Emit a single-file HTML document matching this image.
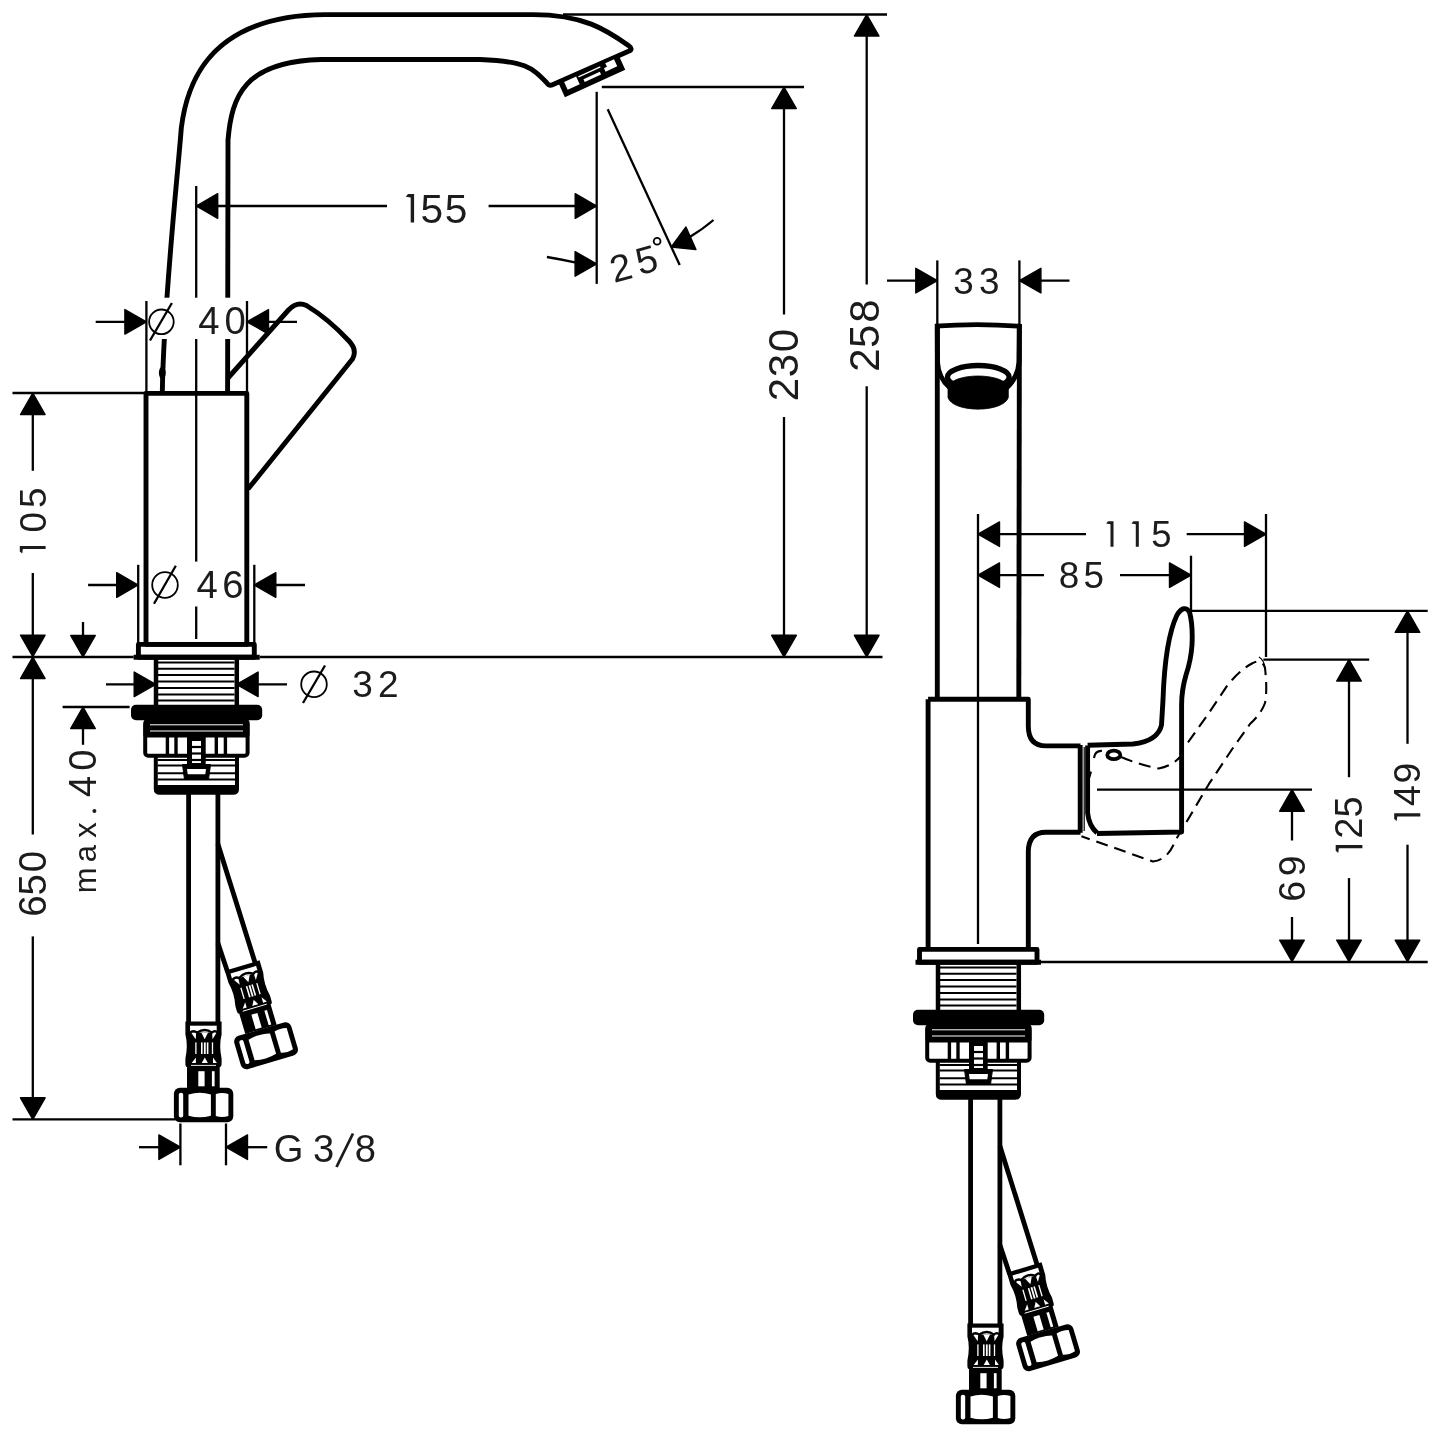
<!DOCTYPE html>
<html><head><meta charset="utf-8"><style>
html,body{margin:0;padding:0;background:#fff;}
svg{display:block;will-change:transform;}
text{font-family:"Liberation Sans",sans-serif;fill:#1c1c1c;stroke:none;}
</style></head><body>
<svg width="1437" height="1437" viewBox="0 0 1437 1437">
<rect width="1437" height="1437" fill="#fff"/>
<g stroke="#000" fill="none" stroke-linecap="butt" stroke-linejoin="round">
<path d="M 162.3,393 C 163.5,303.3 177.8,174.6 181.3,128 C 185.5,94 200.7,15.6 325,14.6 L 530,14.6 C 583.8,14 606.9,30.3 628.5,45.5 Q 634,49.5 628,51.5 L 552.5,84.8 Q 549,86.3 546.5,82.5 C 531.6,67 524.4,61.2 480,59.5 L 321,59.5 C 244.2,61.6 231.7,96.1 228,140 L 227.6,393" stroke-width="4.9" fill="none" />
<g transform="translate(559.5,83.4) rotate(-24.5)"><rect x="-0.8" y="-0.5" width="66.3" height="15.3" fill="#000" stroke="none"/><rect x="4.8" y="0.6" width="13.2" height="8.6" fill="#fff" stroke="none"/><polygon points="50,0.6 59.6,0.6 59.6,8.4 46.8,8.4 46.8,4.6 50,4.6" fill="#fff" stroke="none"/><rect x="20" y="1.2" width="24" height="1.3" fill="#fff" stroke="none"/><rect x="23.5" y="6.2" width="18" height="3" fill="#fff" stroke="none"/></g>
<rect x="149" y="297.7" width="95" height="41.3" fill="#fff" stroke="none"/>
<ellipse cx="162.3" cy="373" rx="3.4" ry="6.5" fill="#000" stroke="none"/>
<path d="M 146,393.4 L 246.8,393.4 L 246.8,644.4 L 146,644.4 Z" stroke-width="4.9" fill="none" />
<path d="M 138.4,644.4 L 254.3,644.4 L 254.3,657.2 L 138.4,657.2 Z" stroke-width="4.9" fill="none" />
<line x1="133.60" y1="657.20" x2="259.70" y2="657.20" stroke-width="5" />
<path d="M 228,378 L 288.5,310 Q 297,301 306.5,305.5 C 322,315 337,328 349,341 Q 357.5,350 352.5,359 L 248,489" stroke-width="4.9" fill="none" />
<line x1="196.20" y1="186.00" x2="196.20" y2="297.70" stroke-width="2.3" />
<line x1="196.20" y1="339.00" x2="196.20" y2="561.60" stroke-width="2.3" />
<line x1="196.20" y1="606.50" x2="196.20" y2="639.00" stroke-width="2.3" />
<polygon points="196.20,206.00 217.70,193.70 217.70,218.30" fill="#000" stroke="#000" stroke-width="1.4" stroke-linejoin="round"/>
<polygon points="596.70,206.00 575.20,218.30 575.20,193.70" fill="#000" stroke="#000" stroke-width="1.4" stroke-linejoin="round"/>
<line x1="196.20" y1="206.00" x2="387.00" y2="206.00" stroke-width="2.3" />
<line x1="488.60" y1="206.00" x2="596.70" y2="206.00" stroke-width="2.3" />
<g transform="translate(412.40,222.50)"><polygon points="-6.60,-25.80 -4.40,-28.50 1.70,-28.50 1.70,0.00 -1.70,0.00 -1.70,-25.10" fill="#1c1c1c" stroke="none"/></g>
<text x="431.80" y="222.50" font-size="40.71" text-anchor="middle">5</text>
<text x="456.00" y="222.50" font-size="40.71" text-anchor="middle">5</text>
<line x1="596.70" y1="91.80" x2="596.70" y2="283.90" stroke-width="2.3" />
<line x1="607.70" y1="109.30" x2="679.70" y2="265.10" stroke-width="2.3" />
<polygon points="596.60,263.90 575.10,276.20 575.10,251.60" fill="#000" stroke="#000" stroke-width="1.4" stroke-linejoin="round"/>
<path d="M 546.9,257 Q 562,259.5 576,262.6" stroke-width="2.3" fill="none" />
<polygon points="671.30,247.00 685.94,227.02 695.94,249.49" fill="#000" stroke="#000" stroke-width="1.4" stroke-linejoin="round"/>
<path d="M 713.5,220 Q 703,229 689,237.5" stroke-width="2.3" fill="none" />
<g transform="translate(620.8,267.4) rotate(-15)"><text x="0" y="13.4" font-size="38" text-anchor="middle">2</text></g>
<g transform="translate(646.5,259.5) rotate(-15)"><text x="0" y="13.4" font-size="38" text-anchor="middle">5</text></g>
<circle cx="657.1" cy="241.3" r="3.4" stroke-width="1.8"/>
<line x1="146.40" y1="301.00" x2="146.40" y2="393.40" stroke-width="2.3" />
<line x1="247.00" y1="301.00" x2="247.00" y2="393.40" stroke-width="2.3" />
<polygon points="146.40,321.80 124.90,334.10 124.90,309.50" fill="#000" stroke="#000" stroke-width="1.4" stroke-linejoin="round"/>
<polygon points="247.00,321.80 268.50,309.50 268.50,334.10" fill="#000" stroke="#000" stroke-width="1.4" stroke-linejoin="round"/>
<line x1="95.70" y1="321.80" x2="130.00" y2="321.80" stroke-width="2.3" />
<line x1="262.00" y1="321.80" x2="297.00" y2="321.80" stroke-width="2.3" />
<circle cx="161.4" cy="321.8" r="12.3" stroke-width="1.8"/>
<line x1="150.00" y1="340.50" x2="171.90" y2="303.00" stroke-width="2.3" />
<text x="208.90" y="334.40" font-size="38.29" text-anchor="middle">4</text>
<text x="235.10" y="334.40" font-size="38.29" text-anchor="middle">0</text>
<line x1="138.20" y1="564.80" x2="138.20" y2="644.00" stroke-width="2.3" />
<line x1="254.30" y1="564.80" x2="254.30" y2="644.00" stroke-width="2.3" />
<polygon points="138.20,585.00 116.70,597.30 116.70,572.70" fill="#000" stroke="#000" stroke-width="1.4" stroke-linejoin="round"/>
<polygon points="254.30,585.00 275.80,572.70 275.80,597.30" fill="#000" stroke="#000" stroke-width="1.4" stroke-linejoin="round"/>
<line x1="88.10" y1="585.00" x2="125.00" y2="585.00" stroke-width="2.3" />
<line x1="268.00" y1="585.00" x2="305.00" y2="585.00" stroke-width="2.3" />
<circle cx="165" cy="585" r="12.8" stroke-width="1.8"/>
<line x1="154.00" y1="603.80" x2="175.80" y2="565.80" stroke-width="2.3" />
<text x="207.20" y="597.50" font-size="38.29" text-anchor="middle">4</text>
<text x="233.00" y="597.50" font-size="38.29" text-anchor="middle">6</text>
<line x1="12.50" y1="393.00" x2="146.00" y2="393.00" stroke-width="2.3" />
<polygon points="32.80,393.00 45.10,414.50 20.50,414.50" fill="#000" stroke="#000" stroke-width="1.4" stroke-linejoin="round"/>
<line x1="32.80" y1="410.00" x2="32.80" y2="470.80" stroke-width="2.3" />
<g transform="translate(45.60,547.50) rotate(-90)"><polygon points="-5.97,-23.36 -3.98,-25.80 1.54,-25.80 1.54,0.00 -1.54,0.00 -1.54,-22.72" fill="#1c1c1c" stroke="none"/></g>
<g transform="translate(45.60,522.20) rotate(-90)"><text x="0" y="0" font-size="36.86" text-anchor="middle">0</text></g>
<g transform="translate(45.60,497.70) rotate(-90)"><text x="0" y="0" font-size="36.86" text-anchor="middle">5</text></g>
<line x1="32.80" y1="573.00" x2="32.80" y2="640.00" stroke-width="2.3" />
<polygon points="32.80,656.60 20.50,635.10 45.10,635.10" fill="#000" stroke="#000" stroke-width="1.4" stroke-linejoin="round"/>
<line x1="12.50" y1="657.00" x2="133.60" y2="657.00" stroke-width="2.3" />
<line x1="259.70" y1="657.00" x2="882.50" y2="657.00" stroke-width="2.3" />
<polygon points="32.80,657.00 45.10,678.50 20.50,678.50" fill="#000" stroke="#000" stroke-width="1.4" stroke-linejoin="round"/>
<line x1="32.80" y1="670.00" x2="32.80" y2="834.50" stroke-width="2.3" />
<g transform="translate(45.70,906.00) rotate(-90)"><text x="0" y="0" font-size="38.43" text-anchor="middle">6</text></g>
<g transform="translate(45.70,884.80) rotate(-90)"><text x="0" y="0" font-size="38.43" text-anchor="middle">5</text></g>
<g transform="translate(45.70,861.50) rotate(-90)"><text x="0" y="0" font-size="38.43" text-anchor="middle">0</text></g>
<line x1="32.80" y1="936.40" x2="32.80" y2="1105.00" stroke-width="2.3" />
<polygon points="32.80,1119.30 20.50,1097.80 45.10,1097.80" fill="#000" stroke="#000" stroke-width="1.4" stroke-linejoin="round"/>
<line x1="12.50" y1="1119.30" x2="175.40" y2="1119.30" stroke-width="2.3" />
<line x1="62.60" y1="707.00" x2="129.60" y2="707.00" stroke-width="2.3" />
<line x1="83.00" y1="622.00" x2="83.00" y2="645.00" stroke-width="2.3" />
<polygon points="83.00,657.00 70.70,635.50 95.30,635.50" fill="#000" stroke="#000" stroke-width="1.4" stroke-linejoin="round"/>
<polygon points="83.00,707.00 95.30,728.50 70.70,728.50" fill="#000" stroke="#000" stroke-width="1.4" stroke-linejoin="round"/>
<line x1="83.00" y1="720.00" x2="83.00" y2="744.80" stroke-width="2.3" />
<g transform="translate(96.2,880.3) rotate(-90)"><text x="0" y="0" font-size="31" text-anchor="middle">m</text></g>
<g transform="translate(96.2,853.7) rotate(-90)"><text x="0" y="0" font-size="31" text-anchor="middle">a</text></g>
<g transform="translate(96.2,830) rotate(-90)"><text x="0" y="0" font-size="31" text-anchor="middle">x</text></g>
<g transform="translate(96.2,786.5) rotate(-90)"><text x="0" y="0" font-size="38.1" text-anchor="middle">4</text></g>
<g transform="translate(96.2,760.2) rotate(-90)"><text x="0" y="0" font-size="38.1" text-anchor="middle">0</text></g>
<circle cx="94.4" cy="811.1" r="2" fill="#1c1c1c" stroke="none"/>
<polygon points="155.70,684.30 134.20,696.60 134.20,672.00" fill="#000" stroke="#000" stroke-width="1.4" stroke-linejoin="round"/>
<polygon points="236.60,684.30 258.10,672.00 258.10,696.60" fill="#000" stroke="#000" stroke-width="1.4" stroke-linejoin="round"/>
<line x1="106.00" y1="684.30" x2="140.00" y2="684.30" stroke-width="2.3" />
<line x1="250.00" y1="684.30" x2="287.00" y2="684.30" stroke-width="2.3" />
<circle cx="314" cy="684.3" r="12.8" stroke-width="1.8"/>
<line x1="303.00" y1="703.00" x2="325.00" y2="665.50" stroke-width="2.3" />
<text x="362.45" y="697.20" font-size="37.00" text-anchor="middle">3</text>
<text x="388.35" y="697.20" font-size="37.00" text-anchor="middle">2</text>
<line x1="180.40" y1="1123.50" x2="180.40" y2="1165.30" stroke-width="2.3" />
<line x1="226.00" y1="1123.50" x2="226.00" y2="1165.30" stroke-width="2.3" />
<polygon points="180.40,1147.20 158.90,1159.50 158.90,1134.90" fill="#000" stroke="#000" stroke-width="1.4" stroke-linejoin="round"/>
<polygon points="226.00,1147.20 247.50,1134.90 247.50,1159.50" fill="#000" stroke="#000" stroke-width="1.4" stroke-linejoin="round"/>
<line x1="139.00" y1="1147.20" x2="165.00" y2="1147.20" stroke-width="2.3" />
<line x1="240.00" y1="1147.20" x2="267.20" y2="1147.20" stroke-width="2.3" />
<text x="288.55" y="1161.70" font-size="38.14" text-anchor="middle">G</text>
<text x="323.65" y="1161.70" font-size="38.14" text-anchor="middle">3</text>
<text x="365.45" y="1161.70" font-size="38.14" text-anchor="middle">8</text>
<line x1="336.50" y1="1167.00" x2="353.00" y2="1133.50" stroke-width="2.8" stroke="#1c1c1c"/>
<line x1="601.80" y1="87.00" x2="804.00" y2="87.00" stroke-width="2.3" />
<polygon points="784.00,87.00 796.30,108.50 771.70,108.50" fill="#000" stroke="#000" stroke-width="1.4" stroke-linejoin="round"/>
<line x1="784.00" y1="100.00" x2="784.00" y2="314.50" stroke-width="2.3" />
<g transform="translate(797.60,389.60) rotate(-90)"><text x="0" y="0" font-size="42.00" text-anchor="middle">2</text></g>
<g transform="translate(797.60,365.50) rotate(-90)"><text x="0" y="0" font-size="42.00" text-anchor="middle">3</text></g>
<g transform="translate(797.60,340.60) rotate(-90)"><text x="0" y="0" font-size="42.00" text-anchor="middle">0</text></g>
<line x1="784.00" y1="417.00" x2="784.00" y2="645.00" stroke-width="2.3" />
<polygon points="784.00,656.80 771.70,635.30 796.30,635.30" fill="#000" stroke="#000" stroke-width="1.4" stroke-linejoin="round"/>
<line x1="563.00" y1="14.50" x2="887.00" y2="14.50" stroke-width="2.3" />
<polygon points="866.70,14.50 879.00,36.00 854.40,36.00" fill="#000" stroke="#000" stroke-width="1.4" stroke-linejoin="round"/>
<line x1="866.70" y1="28.00" x2="866.70" y2="284.50" stroke-width="2.3" />
<g transform="translate(879.00,360.20) rotate(-90)"><text x="0" y="0" font-size="42.00" text-anchor="middle">2</text></g>
<g transform="translate(879.00,336.30) rotate(-90)"><text x="0" y="0" font-size="42.00" text-anchor="middle">5</text></g>
<g transform="translate(879.00,311.20) rotate(-90)"><text x="0" y="0" font-size="42.00" text-anchor="middle">8</text></g>
<line x1="866.70" y1="386.30" x2="866.70" y2="645.00" stroke-width="2.3" />
<polygon points="866.70,656.80 854.40,635.30 879.00,635.30" fill="#000" stroke="#000" stroke-width="1.4" stroke-linejoin="round"/>
</g>
<g stroke="#000" fill="none" stroke-linejoin="round">
<line x1="156" y1="659" x2="156" y2="705.5" stroke-width="4.5"/>
<line x1="236.8" y1="659" x2="236.8" y2="705.5" stroke-width="4.5"/>
<line x1="158" y1="662.5" x2="234.5" y2="662.5" stroke-width="2"/>
<line x1="158" y1="668.8" x2="234.5" y2="668.8" stroke-width="2"/>
<line x1="158" y1="675.1" x2="234.5" y2="675.1" stroke-width="2"/>
<line x1="158" y1="681.5" x2="234.5" y2="681.5" stroke-width="2"/>
<line x1="158" y1="688" x2="234.5" y2="688" stroke-width="2"/>
<line x1="158" y1="694.4" x2="234.5" y2="694.4" stroke-width="2"/>
<line x1="158" y1="700.6" x2="234.5" y2="700.6" stroke-width="2"/>
<rect x="131" y="704.8" width="131.2" height="15.4" rx="5" fill="#000" stroke="none"/>
<rect x="145.2" y="721.5" width="102.4" height="34.2" rx="3" stroke-width="4"/>
<rect x="143.5" y="719.5" width="106" height="18" rx="3" fill="#000" stroke="none"/>
<line x1="150" y1="724.8" x2="243" y2="724.8" stroke="#fff" stroke-width="1"/>
<line x1="150" y1="731" x2="243" y2="731" stroke="#fff" stroke-width="1"/>
<line x1="167.4" y1="737" x2="167.4" y2="756" stroke-width="3.4"/>
<line x1="176" y1="737" x2="176" y2="756" stroke-width="3.4"/>
<line x1="216.3" y1="737" x2="216.3" y2="756" stroke-width="3.4"/>
<line x1="225.4" y1="737" x2="225.4" y2="756" stroke-width="3.4"/>
<rect x="187" y="735" width="18.7" height="31" fill="#000" stroke="none"/>
<rect x="192" y="741" width="9" height="22" fill="#fff" stroke="none"/>
<line x1="192" y1="747" x2="201" y2="747" stroke-width="2.2"/>
<line x1="192" y1="753.5" x2="201" y2="753.5" stroke-width="2.2"/>
<line x1="192" y1="760" x2="201" y2="760" stroke-width="2.2"/>
<path d="M 155.8,757 L 155.8,789 Q 155.8,792.8 160,792.8 L 233,792.8 Q 237,792.8 237,789 L 237,757" stroke-width="4"/>
<rect x="156" y="785" width="81" height="8" fill="#000" stroke="none"/>
<line x1="157.5" y1="760.1" x2="235.5" y2="760.1" stroke-width="2"/>
<line x1="157.5" y1="765.6" x2="235.5" y2="765.6" stroke-width="2"/>
<line x1="157.5" y1="773.2" x2="235.5" y2="773.2" stroke-width="2"/>
<line x1="157.5" y1="779.5" x2="235.5" y2="779.5" stroke-width="2"/>
<polygon points="182.5,764.5 210.5,764.5 208.5,779.5 184.5,779.5" fill="#000" stroke="#000" stroke-width="1"/>
<polygon points="187,769 206,769 205.3,774.3 187.7,774.3" fill="#fff" stroke="none"/>
<line x1="188.6" y1="794" x2="188.6" y2="1022" stroke-width="4.8"/>
<line x1="217.9" y1="794" x2="217.9" y2="1022" stroke-width="4.8"/>
<line x1="217.9" y1="844" x2="255.5" y2="964" stroke-width="4.8"/>
<line x1="217.9" y1="942.9" x2="227.6" y2="972" stroke-width="4.8"/>
<g transform="translate(203.5,1021.4)"><path d="M -18.1,0 L 18.1,0 L 18.1,13 Q 15.3,24 18.1,37 L 18.1,42 Q 18,45.5 16.2,45.5 L 16.2,66.6 L -16.5,66.6 L -16.5,45.5 Q -18.1,45.5 -18.1,42 L -18.1,37 Q -15.3,24 -18.1,13 Z" fill="#000" stroke="none"/>
<rect x="-13.5" y="4.3" width="26.7" height="6.8" fill="#fff" stroke="none"/>
<polygon points="-12.5,11 -7.3,11 -7.8,17.8" fill="#fff" stroke="none"/>
<polygon points="-2.2,11 4.6,11 1.2,17.8" fill="#fff" stroke="none"/>
<polygon points="8.6,11 13.2,11 9,17.8" fill="#fff" stroke="none"/>
<path d="M -13.8,11.6 Q -10.5,8.2 -6.2,11.2 Q -2.5,8.6 1.2,8.6 Q 5,8.6 8.4,11.2 Q 11.5,8.2 14,11.2" stroke-width="2.4" fill="none"/>
<rect x="-8.25" y="21" width="1.3" height="11.6" fill="#fff" stroke="none"/>
<rect x="-2.50" y="21" width="1.6" height="11.6" fill="#fff" stroke="none"/>
<rect x="0.40" y="21" width="1.8" height="11.6" fill="#fff" stroke="none"/>
<rect x="3.30" y="21" width="1.6" height="11.6" fill="#fff" stroke="none"/>
<rect x="8.35" y="21" width="1.3" height="11.6" fill="#fff" stroke="none"/>
<polygon points="-11.8,41.6 -7.6,41.6 -7.6,36" fill="#fff" stroke="none"/>
<polygon points="-1.8,41.6 4.4,41.6 1.3,36" fill="#fff" stroke="none"/>
<polygon points="9.5,36 13.4,41.6 9.5,41.6" fill="#fff" stroke="none"/>
<line x1="-12.5" y1="44" x2="12.5" y2="44" stroke="#fff" stroke-width="0.9"/>
<rect x="-5.2" y="49.8" width="6.3" height="15.1" fill="#fff" stroke="none"/>
<rect x="8.4" y="49.8" width="2.7" height="15.1" fill="#fff" stroke="none"/>
<rect x="-29.6" y="66.4" width="59.4" height="34.5" rx="6" fill="#000" stroke="none"/>
<rect x="-24.7" y="71.3" width="4.4" height="24.7" rx="2" fill="#fff" stroke="none"/>
<path d="M -15,73 Q -3.8,69.8 7.4,73 L 7.4,94.3 Q -3.8,97.5 -15,94.3 Z" fill="#fff" stroke="none"/>
<path d="M 12.3,72.6 Q 18.6,70.6 24.9,72.6 L 24.9,94.7 Q 18.6,96.7 12.3,94.7 Z" fill="#fff" stroke="none"/></g>
<g transform="translate(242.2,965.5) rotate(-16.5)"><path d="M -18.1,0 L 18.1,0 L 18.1,13 Q 15.3,24 18.1,37 L 18.1,42 Q 18,45.5 16.2,45.5 L 16.2,66.6 L -16.5,66.6 L -16.5,45.5 Q -18.1,45.5 -18.1,42 L -18.1,37 Q -15.3,24 -18.1,13 Z" fill="#000" stroke="none"/>
<rect x="-13.5" y="4.3" width="26.7" height="6.8" fill="#fff" stroke="none"/>
<polygon points="-12.5,11 -7.3,11 -7.8,17.8" fill="#fff" stroke="none"/>
<polygon points="-2.2,11 4.6,11 1.2,17.8" fill="#fff" stroke="none"/>
<polygon points="8.6,11 13.2,11 9,17.8" fill="#fff" stroke="none"/>
<path d="M -13.8,11.6 Q -10.5,8.2 -6.2,11.2 Q -2.5,8.6 1.2,8.6 Q 5,8.6 8.4,11.2 Q 11.5,8.2 14,11.2" stroke-width="2.4" fill="none"/>
<rect x="-8.25" y="21" width="1.3" height="11.6" fill="#fff" stroke="none"/>
<rect x="-2.50" y="21" width="1.6" height="11.6" fill="#fff" stroke="none"/>
<rect x="0.40" y="21" width="1.8" height="11.6" fill="#fff" stroke="none"/>
<rect x="3.30" y="21" width="1.6" height="11.6" fill="#fff" stroke="none"/>
<rect x="8.35" y="21" width="1.3" height="11.6" fill="#fff" stroke="none"/>
<polygon points="-11.8,41.6 -7.6,41.6 -7.6,36" fill="#fff" stroke="none"/>
<polygon points="-1.8,41.6 4.4,41.6 1.3,36" fill="#fff" stroke="none"/>
<polygon points="9.5,36 13.4,41.6 9.5,41.6" fill="#fff" stroke="none"/>
<line x1="-12.5" y1="44" x2="12.5" y2="44" stroke="#fff" stroke-width="0.9"/>
<rect x="-5.2" y="49.8" width="6.3" height="15.1" fill="#fff" stroke="none"/>
<rect x="8.4" y="49.8" width="2.7" height="15.1" fill="#fff" stroke="none"/>
<rect x="-29.6" y="66.4" width="59.4" height="34.5" rx="6" fill="#000" stroke="none"/>
<rect x="-24.7" y="71.3" width="4.4" height="24.7" rx="2" fill="#fff" stroke="none"/>
<path d="M -15,73 Q -3.8,69.8 7.4,73 L 7.4,94.3 Q -3.8,97.5 -15,94.3 Z" fill="#fff" stroke="none"/>
<path d="M 12.3,72.6 Q 18.6,70.6 24.9,72.6 L 24.9,94.7 Q 18.6,96.7 12.3,94.7 Z" fill="#fff" stroke="none"/></g>
<g transform="translate(782,305)"><line x1="156" y1="659" x2="156" y2="705.5" stroke-width="4.5"/>
<line x1="236.8" y1="659" x2="236.8" y2="705.5" stroke-width="4.5"/>
<line x1="158" y1="662.5" x2="234.5" y2="662.5" stroke-width="2"/>
<line x1="158" y1="668.8" x2="234.5" y2="668.8" stroke-width="2"/>
<line x1="158" y1="675.1" x2="234.5" y2="675.1" stroke-width="2"/>
<line x1="158" y1="681.5" x2="234.5" y2="681.5" stroke-width="2"/>
<line x1="158" y1="688" x2="234.5" y2="688" stroke-width="2"/>
<line x1="158" y1="694.4" x2="234.5" y2="694.4" stroke-width="2"/>
<line x1="158" y1="700.6" x2="234.5" y2="700.6" stroke-width="2"/>
<rect x="131" y="704.8" width="131.2" height="15.4" rx="5" fill="#000" stroke="none"/>
<rect x="145.2" y="721.5" width="102.4" height="34.2" rx="3" stroke-width="4"/>
<rect x="143.5" y="719.5" width="106" height="18" rx="3" fill="#000" stroke="none"/>
<line x1="150" y1="724.8" x2="243" y2="724.8" stroke="#fff" stroke-width="1"/>
<line x1="150" y1="731" x2="243" y2="731" stroke="#fff" stroke-width="1"/>
<line x1="167.4" y1="737" x2="167.4" y2="756" stroke-width="3.4"/>
<line x1="176" y1="737" x2="176" y2="756" stroke-width="3.4"/>
<line x1="216.3" y1="737" x2="216.3" y2="756" stroke-width="3.4"/>
<line x1="225.4" y1="737" x2="225.4" y2="756" stroke-width="3.4"/>
<rect x="187" y="735" width="18.7" height="31" fill="#000" stroke="none"/>
<rect x="192" y="741" width="9" height="22" fill="#fff" stroke="none"/>
<line x1="192" y1="747" x2="201" y2="747" stroke-width="2.2"/>
<line x1="192" y1="753.5" x2="201" y2="753.5" stroke-width="2.2"/>
<line x1="192" y1="760" x2="201" y2="760" stroke-width="2.2"/>
<path d="M 155.8,757 L 155.8,789 Q 155.8,792.8 160,792.8 L 233,792.8 Q 237,792.8 237,789 L 237,757" stroke-width="4"/>
<rect x="156" y="785" width="81" height="8" fill="#000" stroke="none"/>
<line x1="157.5" y1="760.1" x2="235.5" y2="760.1" stroke-width="2"/>
<line x1="157.5" y1="765.6" x2="235.5" y2="765.6" stroke-width="2"/>
<line x1="157.5" y1="773.2" x2="235.5" y2="773.2" stroke-width="2"/>
<line x1="157.5" y1="779.5" x2="235.5" y2="779.5" stroke-width="2"/>
<polygon points="182.5,764.5 210.5,764.5 208.5,779.5 184.5,779.5" fill="#000" stroke="#000" stroke-width="1"/>
<polygon points="187,769 206,769 205.3,774.3 187.7,774.3" fill="#fff" stroke="none"/></g>
<g transform="translate(782,302)"><line x1="188.6" y1="794" x2="188.6" y2="1022" stroke-width="4.8"/>
<line x1="217.9" y1="794" x2="217.9" y2="1022" stroke-width="4.8"/>
<line x1="217.9" y1="844" x2="255.5" y2="964" stroke-width="4.8"/>
<line x1="217.9" y1="942.9" x2="227.6" y2="972" stroke-width="4.8"/>
<g transform="translate(203.5,1021.4)"><path d="M -18.1,0 L 18.1,0 L 18.1,13 Q 15.3,24 18.1,37 L 18.1,42 Q 18,45.5 16.2,45.5 L 16.2,66.6 L -16.5,66.6 L -16.5,45.5 Q -18.1,45.5 -18.1,42 L -18.1,37 Q -15.3,24 -18.1,13 Z" fill="#000" stroke="none"/>
<rect x="-13.5" y="4.3" width="26.7" height="6.8" fill="#fff" stroke="none"/>
<polygon points="-12.5,11 -7.3,11 -7.8,17.8" fill="#fff" stroke="none"/>
<polygon points="-2.2,11 4.6,11 1.2,17.8" fill="#fff" stroke="none"/>
<polygon points="8.6,11 13.2,11 9,17.8" fill="#fff" stroke="none"/>
<path d="M -13.8,11.6 Q -10.5,8.2 -6.2,11.2 Q -2.5,8.6 1.2,8.6 Q 5,8.6 8.4,11.2 Q 11.5,8.2 14,11.2" stroke-width="2.4" fill="none"/>
<rect x="-8.25" y="21" width="1.3" height="11.6" fill="#fff" stroke="none"/>
<rect x="-2.50" y="21" width="1.6" height="11.6" fill="#fff" stroke="none"/>
<rect x="0.40" y="21" width="1.8" height="11.6" fill="#fff" stroke="none"/>
<rect x="3.30" y="21" width="1.6" height="11.6" fill="#fff" stroke="none"/>
<rect x="8.35" y="21" width="1.3" height="11.6" fill="#fff" stroke="none"/>
<polygon points="-11.8,41.6 -7.6,41.6 -7.6,36" fill="#fff" stroke="none"/>
<polygon points="-1.8,41.6 4.4,41.6 1.3,36" fill="#fff" stroke="none"/>
<polygon points="9.5,36 13.4,41.6 9.5,41.6" fill="#fff" stroke="none"/>
<line x1="-12.5" y1="44" x2="12.5" y2="44" stroke="#fff" stroke-width="0.9"/>
<rect x="-5.2" y="49.8" width="6.3" height="15.1" fill="#fff" stroke="none"/>
<rect x="8.4" y="49.8" width="2.7" height="15.1" fill="#fff" stroke="none"/>
<rect x="-29.6" y="66.4" width="59.4" height="34.5" rx="6" fill="#000" stroke="none"/>
<rect x="-24.7" y="71.3" width="4.4" height="24.7" rx="2" fill="#fff" stroke="none"/>
<path d="M -15,73 Q -3.8,69.8 7.4,73 L 7.4,94.3 Q -3.8,97.5 -15,94.3 Z" fill="#fff" stroke="none"/>
<path d="M 12.3,72.6 Q 18.6,70.6 24.9,72.6 L 24.9,94.7 Q 18.6,96.7 12.3,94.7 Z" fill="#fff" stroke="none"/></g>
<g transform="translate(242.2,965.5) rotate(-16.5)"><path d="M -18.1,0 L 18.1,0 L 18.1,13 Q 15.3,24 18.1,37 L 18.1,42 Q 18,45.5 16.2,45.5 L 16.2,66.6 L -16.5,66.6 L -16.5,45.5 Q -18.1,45.5 -18.1,42 L -18.1,37 Q -15.3,24 -18.1,13 Z" fill="#000" stroke="none"/>
<rect x="-13.5" y="4.3" width="26.7" height="6.8" fill="#fff" stroke="none"/>
<polygon points="-12.5,11 -7.3,11 -7.8,17.8" fill="#fff" stroke="none"/>
<polygon points="-2.2,11 4.6,11 1.2,17.8" fill="#fff" stroke="none"/>
<polygon points="8.6,11 13.2,11 9,17.8" fill="#fff" stroke="none"/>
<path d="M -13.8,11.6 Q -10.5,8.2 -6.2,11.2 Q -2.5,8.6 1.2,8.6 Q 5,8.6 8.4,11.2 Q 11.5,8.2 14,11.2" stroke-width="2.4" fill="none"/>
<rect x="-8.25" y="21" width="1.3" height="11.6" fill="#fff" stroke="none"/>
<rect x="-2.50" y="21" width="1.6" height="11.6" fill="#fff" stroke="none"/>
<rect x="0.40" y="21" width="1.8" height="11.6" fill="#fff" stroke="none"/>
<rect x="3.30" y="21" width="1.6" height="11.6" fill="#fff" stroke="none"/>
<rect x="8.35" y="21" width="1.3" height="11.6" fill="#fff" stroke="none"/>
<polygon points="-11.8,41.6 -7.6,41.6 -7.6,36" fill="#fff" stroke="none"/>
<polygon points="-1.8,41.6 4.4,41.6 1.3,36" fill="#fff" stroke="none"/>
<polygon points="9.5,36 13.4,41.6 9.5,41.6" fill="#fff" stroke="none"/>
<line x1="-12.5" y1="44" x2="12.5" y2="44" stroke="#fff" stroke-width="0.9"/>
<rect x="-5.2" y="49.8" width="6.3" height="15.1" fill="#fff" stroke="none"/>
<rect x="8.4" y="49.8" width="2.7" height="15.1" fill="#fff" stroke="none"/>
<rect x="-29.6" y="66.4" width="59.4" height="34.5" rx="6" fill="#000" stroke="none"/>
<rect x="-24.7" y="71.3" width="4.4" height="24.7" rx="2" fill="#fff" stroke="none"/>
<path d="M -15,73 Q -3.8,69.8 7.4,73 L 7.4,94.3 Q -3.8,97.5 -15,94.3 Z" fill="#fff" stroke="none"/>
<path d="M 12.3,72.6 Q 18.6,70.6 24.9,72.6 L 24.9,94.7 Q 18.6,96.7 12.3,94.7 Z" fill="#fff" stroke="none"/></g></g>
</g>
<g stroke="#000" fill="none" stroke-linecap="butt" stroke-linejoin="round">
<line x1="937.30" y1="324.00" x2="937.30" y2="699.20" stroke-width="4.9" />
<path d="M 1019.4,324 L 1018.8,699.2" stroke-width="4.9" fill="none" />
<path d="M 935,326.2 Q 978,322.8 1021.7,326.4" stroke-width="4.7" fill="none" />
<path d="M 937.3,326 L 937.5,362 C 938,374 943,382 950,388" stroke-width="4.9" fill="none" />
<path d="M 1019.3,326 L 1019,362 C 1018.3,374 1013,382 1006.5,388" stroke-width="4.9" fill="none" />
<ellipse cx="978.3" cy="377.1" rx="30.85" ry="11.6" stroke-width="5.3"/>
<path d="M 948,388 L 948,397.5 C 953,413 1003,413 1008.3,397.5 L 1008.3,388 C 1006,372 950,372 948,388 Z" stroke-width="0.8" fill="#000" />
<path d="M 928.1,699.2 L 1028.3,699.2 L 1028.3,726 Q 1028.3,745.9 1046,745.9 L 1080.5,745.9" stroke-width="4.9" fill="none" />
<line x1="928.10" y1="699.20" x2="928.10" y2="949.40" stroke-width="4.9" />
<path d="M 1080.5,832.3 L 1046,832.3 Q 1028.3,832.3 1028.3,852 L 1028.3,949.4" stroke-width="4.9" fill="none" />
<path d="M 919.5,949.4 L 1037,949.4 L 1037,962.2 L 919.5,962.2 Z" stroke-width="4.9" fill="none" />
<line x1="915.50" y1="962.20" x2="1041.00" y2="962.20" stroke-width="5" />
<line x1="1080.20" y1="745.00" x2="1080.20" y2="832.80" stroke-width="4.9" />
<line x1="1084.20" y1="747.00" x2="1084.20" y2="831.00" stroke-width="1.2" />
<path d="M 1087.6,745.5 L 1087.6,813 Q 1089,826 1097,832.8" stroke-width="4.9" fill="none" />
<path d="M 1087.6,745.2 L 1133,744 Q 1158,741 1161.5,725 L 1163,700 Q 1165,640 1177,615 Q 1184,604 1189.5,612 Q 1193,625 1192,645 Q 1191,660 1186,675 Q 1181.6,690 1181.6,705 L 1181.6,832 L 1097,833.5" stroke-width="4.9" fill="none" />
<ellipse cx="1113.8" cy="754.9" rx="6.5" ry="4.2" stroke-width="3.8"/>
<g stroke-width="2.1" stroke-dasharray="12,7">
<path d="M 1094,758 Q 1095,750 1103,751" stroke-width="2.1" fill="none" />
<path d="M 1121,757 Q 1140,765 1158.7,768.5 Q 1172,766 1180,757" stroke-width="2.1" fill="none" />
<path d="M 1091,771.6 L 1086.6,786.2" stroke-width="2.1" fill="none" stroke-dasharray="none"/>
<path d="M 1188,742.4 L 1208.8,713.2 L 1227.6,685 Q 1240,670 1252,663.5 Q 1262,658 1265,668 Q 1267.5,690 1265,703 Q 1261,714 1250,724 L 1233.8,746.6 L 1208.8,784.2 L 1187.9,819.6 L 1175.4,840.5 Q 1168,860 1153,861.5 L 1081.4,836.3" stroke-width="2.1" fill="none" />
</g>
<path d="M 1259,657 Q 1264,660 1265,668" stroke-width="1.2" fill="none" />
<line x1="978.00" y1="514.00" x2="978.00" y2="944.00" stroke-width="2.3" />
<line x1="937.30" y1="260.40" x2="937.30" y2="325.00" stroke-width="2.3" />
<line x1="1019.40" y1="260.40" x2="1019.40" y2="325.00" stroke-width="2.3" />
<polygon points="937.30,280.60 915.80,292.90 915.80,268.30" fill="#000" stroke="#000" stroke-width="1.4" stroke-linejoin="round"/>
<polygon points="1019.40,280.60 1040.90,268.30 1040.90,292.90" fill="#000" stroke="#000" stroke-width="1.4" stroke-linejoin="round"/>
<line x1="887.00" y1="280.60" x2="920.00" y2="280.60" stroke-width="2.3" />
<line x1="1035.00" y1="280.60" x2="1069.50" y2="280.60" stroke-width="2.3" />
<text x="963.40" y="293.80" font-size="36.86" text-anchor="middle">3</text>
<text x="989.20" y="293.80" font-size="36.86" text-anchor="middle">3</text>
<polygon points="978.00,534.20 999.50,521.90 999.50,546.50" fill="#000" stroke="#000" stroke-width="1.4" stroke-linejoin="round"/>
<line x1="995.00" y1="534.20" x2="1086.00" y2="534.20" stroke-width="2.3" />
<g transform="translate(1112.00,546.70)"><polygon points="-5.91,-23.08 -3.94,-25.50 1.52,-25.50 1.52,0.00 -1.52,0.00 -1.52,-22.46" fill="#1c1c1c" stroke="none"/></g>
<g transform="translate(1137.30,546.70)"><polygon points="-5.91,-23.08 -3.94,-25.50 1.52,-25.50 1.52,0.00 -1.52,0.00 -1.52,-22.46" fill="#1c1c1c" stroke="none"/></g>
<text x="1161.30" y="546.70" font-size="36.43" text-anchor="middle">5</text>
<line x1="1186.70" y1="534.20" x2="1250.00" y2="534.20" stroke-width="2.3" />
<polygon points="1266.00,534.20 1244.50,546.50 1244.50,521.90" fill="#000" stroke="#000" stroke-width="1.4" stroke-linejoin="round"/>
<line x1="1266.00" y1="514.00" x2="1266.00" y2="657.00" stroke-width="2.3" />
<polygon points="978.00,575.20 999.50,562.90 999.50,587.50" fill="#000" stroke="#000" stroke-width="1.4" stroke-linejoin="round"/>
<line x1="995.00" y1="575.20" x2="1044.00" y2="575.20" stroke-width="2.3" />
<text x="1069.00" y="588.30" font-size="36.86" text-anchor="middle">8</text>
<text x="1093.70" y="588.30" font-size="36.86" text-anchor="middle">5</text>
<line x1="1120.00" y1="575.20" x2="1175.00" y2="575.20" stroke-width="2.3" />
<polygon points="1191.00,575.20 1169.50,587.50 1169.50,562.90" fill="#000" stroke="#000" stroke-width="1.4" stroke-linejoin="round"/>
<line x1="1191.00" y1="555.70" x2="1191.00" y2="611.00" stroke-width="2.3" />
<line x1="1191.00" y1="610.90" x2="1427.70" y2="610.90" stroke-width="2.3" />
<polygon points="1407.50,610.90 1419.80,632.40 1395.20,632.40" fill="#000" stroke="#000" stroke-width="1.4" stroke-linejoin="round"/>
<line x1="1407.50" y1="625.00" x2="1407.50" y2="743.80" stroke-width="2.3" />
<g transform="translate(1420.30,814.90) rotate(-90)"><polygon points="-6.04,-23.63 -4.03,-26.10 1.56,-26.10 1.56,0.00 -1.56,0.00 -1.56,-22.99" fill="#1c1c1c" stroke="none"/></g>
<g transform="translate(1420.30,795.60) rotate(-90)"><text x="0" y="0" font-size="37.29" text-anchor="middle">4</text></g>
<g transform="translate(1420.30,773.10) rotate(-90)"><text x="0" y="0" font-size="37.29" text-anchor="middle">9</text></g>
<line x1="1407.50" y1="844.70" x2="1407.50" y2="948.00" stroke-width="2.3" />
<polygon points="1407.50,961.60 1395.20,940.10 1419.80,940.10" fill="#000" stroke="#000" stroke-width="1.4" stroke-linejoin="round"/>
<line x1="1263.40" y1="659.60" x2="1369.20" y2="659.60" stroke-width="2.3" />
<polygon points="1349.00,659.60 1361.30,681.10 1336.70,681.10" fill="#000" stroke="#000" stroke-width="1.4" stroke-linejoin="round"/>
<line x1="1349.00" y1="672.00" x2="1349.00" y2="777.20" stroke-width="2.3" />
<g transform="translate(1362.40,846.70) rotate(-90)"><polygon points="-6.18,-24.17 -4.12,-26.70 1.59,-26.70 1.59,0.00 -1.59,0.00 -1.59,-23.51" fill="#1c1c1c" stroke="none"/></g>
<g transform="translate(1362.40,828.20) rotate(-90)"><text x="0" y="0" font-size="38.14" text-anchor="middle">2</text></g>
<g transform="translate(1362.40,807.00) rotate(-90)"><text x="0" y="0" font-size="38.14" text-anchor="middle">5</text></g>
<line x1="1349.00" y1="878.10" x2="1349.00" y2="948.00" stroke-width="2.3" />
<polygon points="1349.00,961.60 1336.70,940.10 1361.30,940.10" fill="#000" stroke="#000" stroke-width="1.4" stroke-linejoin="round"/>
<line x1="1097.00" y1="789.70" x2="1312.00" y2="789.70" stroke-width="2.3" />
<polygon points="1292.00,789.70 1304.30,811.20 1279.70,811.20" fill="#000" stroke="#000" stroke-width="1.4" stroke-linejoin="round"/>
<line x1="1292.00" y1="802.00" x2="1292.00" y2="840.50" stroke-width="2.3" />
<g transform="translate(1305.10,891.40) rotate(-90)"><text x="0" y="0" font-size="37.43" text-anchor="middle">6</text></g>
<g transform="translate(1305.10,865.80) rotate(-90)"><text x="0" y="0" font-size="37.43" text-anchor="middle">9</text></g>
<line x1="1292.00" y1="917.00" x2="1292.00" y2="948.00" stroke-width="2.3" />
<polygon points="1292.00,961.60 1279.70,940.10 1304.30,940.10" fill="#000" stroke="#000" stroke-width="1.4" stroke-linejoin="round"/>
<line x1="1041.00" y1="962.00" x2="1427.70" y2="962.00" stroke-width="2.3" />
</g>
</svg></body></html>
